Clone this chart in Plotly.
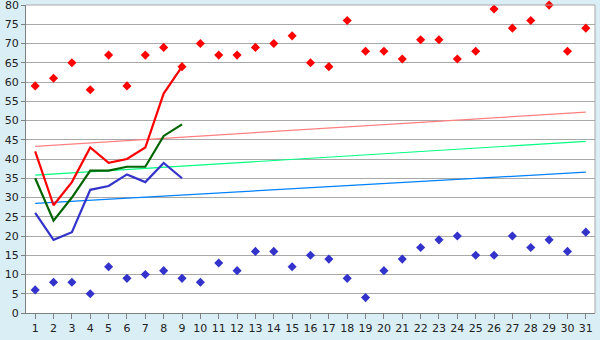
import plotly.graph_objects as go

days = list(range(1, 32))
max_pts = [59, 61, 65, 58, 67, 59, 67, 69, 64, 70, 67, 67, 69, 70, 72, 65, 64, 76, 68, 68,
           66, 71, 71, 66, 68, 79, 74, 76, 80, 68, 74]
min_pts = [6, 8, 8, 5, 12, 9, 10, 11, 9, 8, 13, 11, 16, 16, 12, 15, 14, 9, 4, 11,
           14, 17, 19, 20, 15, 15, 20, 17, 19, 16, 21]
line_days = list(range(1, 10))
red_line = [42, 28, 34, 43, 39, 40, 43, 57, 64]
green_line = [35, 24, 30, 37, 37, 38, 38, 46, 49]
blue_line = [26, 19, 21, 32, 33, 36, 34, 39, 35]
trend_days = [1, 31]
trend_red = [43.3, 52.2]
trend_green = [35.8, 44.6]
trend_blue = [28.5, 36.6]
y_ticks = list(range(0, 81, 5))

fig = go.Figure()
for ys, c in [(trend_red, "#FF8080"), (trend_green, "#00FF80"), (trend_blue, "#0080FF")]:
    fig.add_trace(go.Scatter(x=trend_days, y=ys, mode="lines", line=dict(color=c, width=1.2)))
for ys, c in [(blue_line, "#3333CC"), (green_line, "#006400"), (red_line, "#FF0000")]:
    fig.add_trace(go.Scatter(x=line_days, y=ys, mode="lines", line=dict(color=c, width=2.2)))
fig.add_trace(go.Scatter(x=days, y=max_pts, mode="markers", cliponaxis=False,
                         marker=dict(symbol="diamond", size=7, color="#FF0000")))
fig.add_trace(go.Scatter(x=days, y=min_pts, mode="markers", cliponaxis=False,
                         marker=dict(symbol="diamond", size=7, color="#3333CC")))

fig.update_layout(
    width=600, height=340,
    margin=dict(l=26, r=5, t=5, b=20),
    paper_bgcolor="#D9EEF5", plot_bgcolor="#FFFFFF",
    showlegend=False,
    font=dict(family="DejaVu Sans", size=11, color="#222222"),
    shapes=[dict(type="line", xref="paper", yref="paper", x0=1, x1=1, y0=0, y1=1,
                 line=dict(color="#A8A8A8", width=1)),
            dict(type="line", xref="paper", yref="paper", x0=0, x1=1, y0=1, y1=1,
                 line=dict(color="#A8A8A8", width=1))],
    annotations=[dict(x=0, xref="paper", y=y_ticks[-1], yref="y", text=str(y_ticks[-1]),
                      showarrow=False, xanchor="right", yanchor="middle", xshift=-5,
                      font=dict(family="DejaVu Sans", size=11, color="#222222"))],
)
fig.update_xaxes(range=[0.5, 31.5], tickmode="array", tickvals=days, ticktext=[str(d) for d in days],
                 showgrid=False, showline=True, linecolor="#808080", linewidth=1,
                 ticks="outside", ticklen=5, tickcolor="#808080", zeroline=False)
fig.update_yaxes(range=[0, 80.02], tickmode="array", tickvals=y_ticks,
                 showgrid=True, gridcolor="#A8A8A8", gridwidth=1,
                 showline=True, linecolor="#808080", linewidth=1,
                 ticks="outside", ticklen=4, tickcolor="#808080", zeroline=False)

fig.write_html("out.html")
